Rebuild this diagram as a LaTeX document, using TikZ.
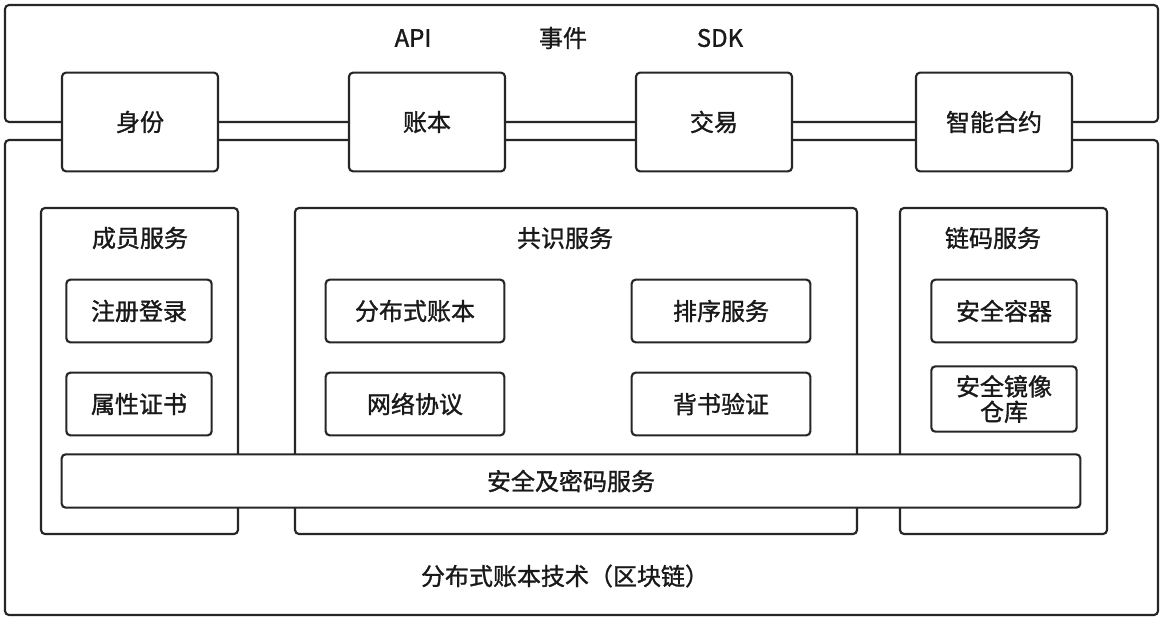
\documentclass[tikz,border=0pt]{standalone}
\usepackage{fontspec}
\setmainfont{Noto Sans CJK SC}[FakeBold=1.2,BoldFont=Noto Sans CJK SC]
\begin{document}
\begin{tikzpicture}[x=0.75pt,y=-0.75pt,
  bx/.style={draw=black!85,line width=1.6pt,rounded corners=3pt},
  lb/.style={font=\fontsize{18}{21}\selectfont\bfseries,text=black!90,align=center},
  box/.style={bx,lb,fill=white}]
\useasboundingbox (0,0) rectangle (1164,622);
\fill[white] (0,0) rectangle (1164,622);
\draw[bx] (5,122) -- (5,5) -- (1158,5) -- (1158,122) -- cycle;
\draw[bx] (5,140) rectangle (1158,615);
\node[box,minimum width=117pt,minimum height=74pt] (sf) at (140,122) {身份};
\node[box,minimum width=117pt,minimum height=74pt] (zb) at (427,122) {账本};
\node[box,minimum width=117pt,minimum height=74pt] (jy) at (714,122) {交易};
\node[box,minimum width=117pt,minimum height=74pt] (zn) at (994,122) {智能合约};
\node[lb] (api) at (413,38) {API};
\node[lb] (sj) at (563,38) {事件};
\node[lb] (sdk) at (720,38) {SDK};
\draw[bx] (41,208) rectangle (238,534);
\node[lb] (cy) at (140,238) {成员服务};
\draw[bx] (295,208) rectangle (857,534);
\node[lb] (gs) at (565,238) {共识服务};
\draw[bx] (900,208) rectangle (1107,534);
\node[lb] (lm) at (993,238) {链码服务};
\node[box,minimum width=109pt,minimum height=47pt] (zc) at (139,311) {注册登录};
\node[box,minimum width=109pt,minimum height=47pt] (sx) at (139,404) {属性证书};
\node[box,minimum width=134pt,minimum height=47pt] (fb) at (415,311) {分布式账本};
\node[box,minimum width=134pt,minimum height=47pt] (px) at (721,311) {排序服务};
\node[box,minimum width=134pt,minimum height=47pt] (wl) at (415,404) {网络协议};
\node[box,minimum width=134pt,minimum height=47pt] (bs) at (721,404) {背书验证};
\node[box,minimum width=109pt,minimum height=47pt] (rq) at (1004,311) {安全容器};
\node[box,minimum width=109pt,minimum height=49pt,font=\fontsize{18}{19}\selectfont\bfseries] (jx) at (1004,399) {安全镜像\\仓库};
\node[box,minimum width=764pt,minimum height=40pt] (mm) at (571,481) {安全及密码服务};
\node[lb] (ft) at (565,576) {分布式账本技术（区块链）};
\end{tikzpicture}
\end{document}
